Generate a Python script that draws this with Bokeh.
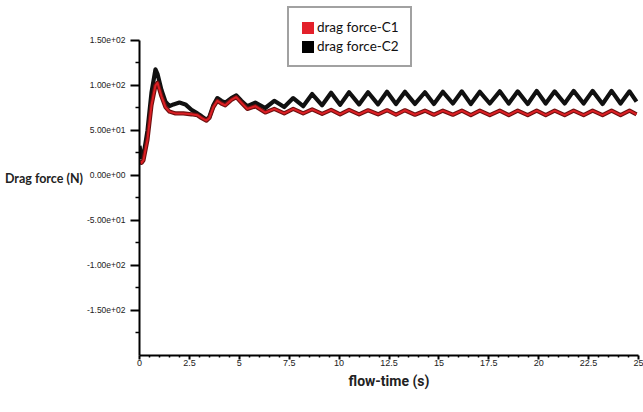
from bokeh.plotting import figure
from bokeh.models import FixedTicker, Range1d, Legend, LegendItem
from bokeh.embed import file_html
from bokeh.resources import INLINE

# ---- data ----
c2_time = [0.0, 0.1, 0.2, 0.4, 0.6, 0.8, 0.9, 1.1, 1.3, 1.5, 1.7, 2.0, 2.3, 2.6, 2.9, 3.1, 3.35, 3.5, 3.7, 3.9,
           4.1, 4.3, 4.6, 4.85, 5.1, 5.4, 5.8, 6.3, 6.75, 7.25, 7.7, 8.2, 8.65, 9.15, 9.6, 10.05, 10.5, 11.0,
           11.45, 11.95, 12.4, 12.85, 13.3, 13.8, 14.3, 14.75, 15.2, 15.7, 16.15, 16.6, 17.05, 17.55, 18.05,
           18.5, 18.95, 19.45, 19.9, 20.35, 20.8, 21.3, 21.75, 22.25, 22.7, 23.2, 23.65, 24.1, 24.55, 24.9]
c2_force = [33, 20, 22, 50, 92, 118, 113, 95, 82, 77, 79, 81, 79, 73, 69, 66, 62, 65, 78, 86,
            83, 81, 86, 89, 83, 77, 81, 75, 83, 76, 86, 77, 90.5, 78, 92, 78.5, 92.5, 79, 92.5, 79, 93, 79.5,
            93, 79.5, 92.5, 79.5, 93, 80, 93.5, 79.5, 93, 80, 93.5, 80, 93.5, 79.5, 94, 80, 93.5, 80, 94,
            80, 94, 79.5, 94, 80, 93.5, 82]

c1_time = [0.0, 0.1, 0.2, 0.4, 0.6, 0.8, 0.9, 1.1, 1.3, 1.5, 1.8, 2.2, 2.6, 2.9, 3.1, 3.35, 3.5, 3.7, 3.9,
           4.1, 4.3, 4.6, 4.85, 5.1, 5.4, 5.8, 6.3, 6.75, 7.25, 7.7, 8.2, 8.65, 9.15, 9.6, 10.05, 10.5, 11.0,
           11.45, 11.95, 12.4, 12.85, 13.3, 13.8, 14.3, 14.75, 15.2, 15.7, 16.15, 16.6, 17.05, 17.55, 18.05,
           18.5, 18.95, 19.45, 19.9, 20.35, 20.8, 21.3, 21.75, 22.25, 22.7, 23.2, 23.65, 24.1, 24.55, 24.9]
c1_force = [16, 14, 17, 40, 78, 100, 103, 88, 76, 71, 69, 69, 68, 67, 64, 61, 64, 76, 83,
            80, 78, 84, 87, 81, 74, 77, 70, 74, 69, 74, 69, 73.5, 68.5, 73, 68, 73, 68, 72.5, 68, 72.5, 67.5,
            72.5, 67.5, 72, 67.5, 72, 67.5, 72, 67, 72, 67, 72, 67, 72, 67, 72, 67, 72, 67, 72, 67, 72, 67,
            72, 67, 72, 68]

series_labels = ["drag force-C1", "drag force-C2"]

x_ticks = [0, 2.5, 5, 7.5, 10, 12.5, 15, 17.5, 20, 22.5, 25]
x_tick_labels = ["0", "2.5", "5", "7.5", "10", "12.5", "15", "17.5", "20", "22.5", "25"]
x_minor = [i * 0.5 for i in range(51) if (i * 0.5) % 2.5 != 0]

y_ticks = [-150, -100, -50, 0, 50, 100, 150]
y_tick_labels = ["-1.50e+02", "-1.00e+02", "-5.00e+01", "0.00e+00", "5.00e+01", "1.00e+02", "1.50e+02"]
y_minor = [-175, -125, -75, -25, 25, 75, 125]

TICK_FONT = "Liberation Sans"

# frame spans y = 0 .. 355 px; 150 sits at y = 40, so the range tops out above 150
p = figure(width=643, height=412, output_backend="svg", toolbar_location=None,
           x_range=Range1d(0, 25), y_range=Range1d(-200, 194.44),
           min_border_left=139, min_border_right=5, min_border_top=0, min_border_bottom=57)
p.outline_line_color = None
p.xgrid.visible = False
p.ygrid.visible = False
p.background_fill_color = "white"
p.border_fill_color = "white"

# lines
p.line(c2_time, c2_force, line_color="#111111", line_width=4.2, line_join="round")
p.line(c1_time, c1_force, line_color="#6e1010", line_width=4.2, line_join="round")
p.line(c1_time, c1_force, line_color="#dc1f24", line_width=2.0, line_join="round")

# legend swatches: zero-size rects on the series points (invisible in the plot, squares in the legend)
r1 = p.rect(x=c1_time, y=c1_force, width=0, height=0, fill_color="#e3202a", line_color=None)
r2 = p.rect(x=c2_time, y=c2_force, width=0, height=0, fill_color="#000000", line_color=None)
legend = Legend(items=[LegendItem(label=series_labels[0], renderers=[r1]),
                       LegendItem(label=series_labels[1], renderers=[r2])],
                location=(148, 288), padding=11, spacing=3, glyph_width=15, glyph_height=15,
                label_height=15, label_standoff=2, label_text_font="Lato",
                label_text_font_size="13.5px", label_text_color="#111111",
                border_line_color="#444444", border_line_width=2, background_fill_alpha=1,
                margin=0)
p.add_layout(legend, "center")

# axes
for ax in (p.xaxis[0], p.yaxis[0]):
    ax.axis_line_width = 2
    ax.axis_line_color = "black"
    ax.major_tick_line_width = 2
    ax.minor_tick_line_width = 1.5
    ax.major_tick_in = 0
    ax.minor_tick_in = 0
    ax.major_label_text_font = TICK_FONT
    ax.major_label_text_font_size = "8.5px"
    ax.major_label_text_color = "#222222"

p.xaxis.ticker = FixedTicker(ticks=x_ticks, minor_ticks=x_minor)
p.xaxis.major_label_overrides = dict(zip(x_ticks, x_tick_labels))
p.xaxis.major_label_text_font_size = "9px"
p.xaxis.major_tick_out = 4
p.xaxis.minor_tick_out = 2
p.xaxis.major_label_standoff = 0
p.xaxis.axis_label = "flow-time (s)"
p.xaxis.axis_label_text_font = "Roboto"
p.xaxis.axis_label_text_font_size = "14px"
p.xaxis.axis_label_text_font_style = "bold"
p.xaxis.axis_label_text_color = "#222222"
p.xaxis.axis_label_standoff = 4

p.yaxis.ticker = FixedTicker(ticks=y_ticks, minor_ticks=y_minor)
p.yaxis.bounds = (-200, 150)
p.yaxis.major_label_overrides = dict(zip(y_ticks, y_tick_labels))
p.yaxis.major_tick_out = 9
p.yaxis.minor_tick_out = 4
p.yaxis.major_label_standoff = 5
p.yaxis.axis_label = "Drag force (N)"
p.yaxis.axis_label_orientation = "horizontal"
p.yaxis.axis_label_text_font = "Lato"
p.yaxis.axis_label_text_font_size = "12.5px"
p.yaxis.axis_label_text_font_style = "bold"
p.yaxis.axis_label_text_color = "#222222"
p.yaxis.axis_label_standoff = 1

open("out.html", "w").write(file_html(p, INLINE))
